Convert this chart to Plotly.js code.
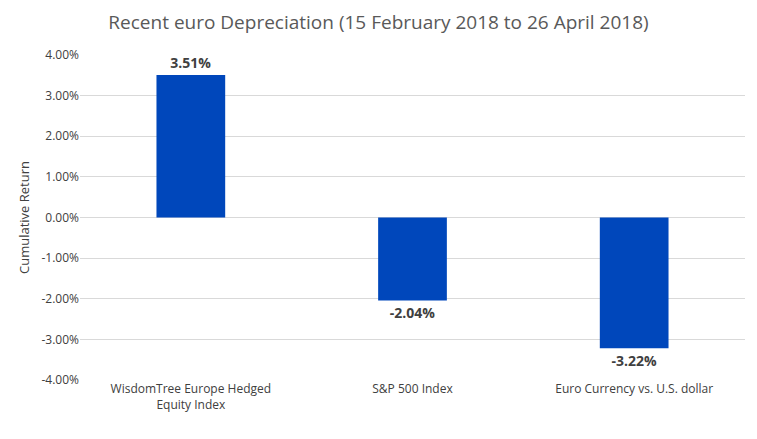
<!DOCTYPE html>
<html>
<head>
<script src="https://cdn.plot.ly/plotly-3.0.1.min.js"></script>
<style>body{margin:0;background:#fff}</style>
</head>
<body>
<div id="chart" style="width:757px;height:439px"></div>
<script>
var categories = ['WisdomTree Europe Hedged<br>Equity Index', 'S&P 500 Index', 'Euro Currency vs. U.S. dollar'];
var returns = [3.51, -2.04, -3.22];
var tickVals = [4, 3, 2, 1, 0, -1, -2, -3, -4];
var tickText = tickVals.map(function (v) { return v.toFixed(2) + '%'; });

var trace = {
  x: categories,
  y: returns,
  type: 'bar',
  width: 0.31,
  marker: {color: '#0047BB'},
  text: returns.map(function (v) { return '<b>' + v.toFixed(2) + '%</b>'; }),
  textposition: 'outside',
  cliponaxis: false,
  textfont: {family: 'Open Sans, sans-serif', size: 14, color: '#404040'},
  hoverinfo: 'none'
};

var layout = {
  width: 757,
  height: 439,
  margin: {l: 80, r: 12, t: 55, b: 59},
  showlegend: false,
  title: {
    text: 'Recent euro Depreciation (15 February 2018 to 26 April 2018)',
    font: {family: 'Open Sans, sans-serif', size: 19, color: '#595959'},
    x: 0.5, xanchor: 'center', y: 0.965
  },
  xaxis: {
    tickfont: {family: 'Open Sans, sans-serif', size: 12, color: '#404040'},
    showline: false, showgrid: false, ticks: ''
  },
  yaxis: {
    range: [-4, 4],
    tickmode: 'array',
    tickvals: tickVals,
    ticktext: tickText,
    gridcolor: '#d9d9d9',
    zeroline: true, zerolinecolor: '#d9d9d9',
    tickfont: {family: 'Open Sans, sans-serif', size: 12, color: '#404040'},
    title: {text: 'Cumulative Return', font: {family: 'Open Sans, sans-serif', size: 13, color: '#404040'}, standoff: 8}
  }
};

Plotly.newPlot('chart', [trace], layout, {displayModeBar: false});
</script>
</body>
</html>
